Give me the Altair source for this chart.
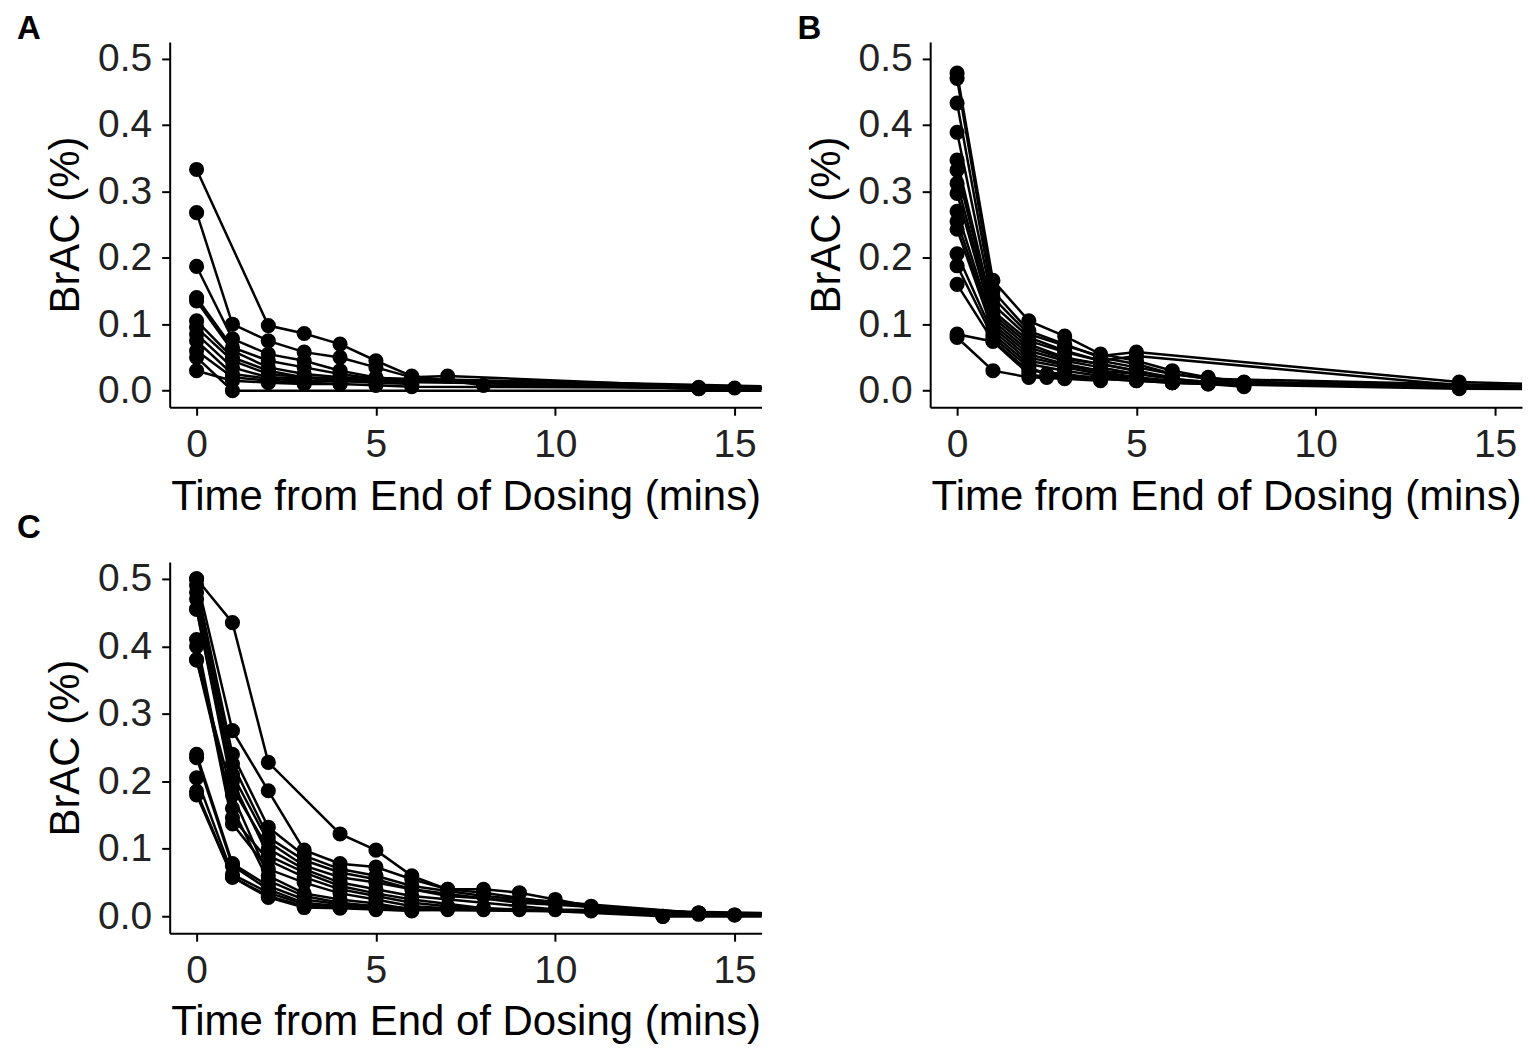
import altair as alt
import pandas as pd

# ---------------- data ----------------
A_times = [
    [0, 2, 3, 4, 5, 6, 8, 14, 20],
    [0, 1, 2, 3, 4, 5, 6, 7, 15, 20],
    [0, 1, 2, 3, 4, 5, 6, 14, 20],
    [0, 1, 2, 3, 4, 5, 14, 20],
    [0, 1, 2, 3, 4, 20],
    [0, 1, 2, 3, 14, 20],
    [0, 1, 2, 3, 4, 5, 6],
    [0, 1, 2, 14, 20],
    [0, 1, 2, 3, 20],
    [0, 1, 2, 3, 4],
    [0, 1, 20],
    [0, 1, 2, 3, 4, 5, 6, 20],
]
A_vals = [
    [0.333, 0.098, 0.086, 0.07, 0.045, 0.022, 0.008, 0.004, 0.003],
    [0.268, 0.1, 0.075, 0.058, 0.05, 0.035, 0.02, 0.022, 0.004, 0.002],
    [0.187, 0.078, 0.055, 0.045, 0.03, 0.02, 0.015, 0.005, 0.004],
    [0.14, 0.065, 0.045, 0.035, 0.025, 0.018, 0.004, 0.002],
    [0.135, 0.06, 0.035, 0.025, 0.02, 0.002],
    [0.105, 0.05, 0.03, 0.02, 0.003, 0.002],
    [0.095, 0.045, 0.025, 0.02, 0.015, 0.012, 0.01],
    [0.085, 0.035, 0.02, 0.003, 0.003],
    [0.075, 0.025, 0.018, 0.015, 0.002],
    [0.06, 0.02, 0.015, 0.012, 0.01],
    [0.05, 0.0, 0.0],
    [0.03, 0.015, 0.012, 0.01, 0.01, 0.008, 0.006, 0.003],
]

B_times = [
    [0, 1, 2, 3, 4, 5, 6, 7, 8, 20],
    [0, 1, 2, 3, 4, 5, 6, 8, 14, 20],
    [0, 1, 2, 3, 4, 5, 14, 20],
    [0, 1, 2, 3, 4, 5, 14, 20],
    [0, 1, 2, 3, 4, 5, 6, 7, 20],
    [0, 1, 2, 3, 4, 5, 6],
    [0, 1, 2, 3, 4, 5, 6, 8],
    [0, 1, 2, 3, 4, 5, 6, 7, 20],
    [0, 1, 2, 3, 4, 5],
    [0, 1, 2, 3, 4, 5, 6, 20],
    [0, 1, 2, 3, 4, 5, 6],
    [0, 1, 2, 3, 4, 5, 6, 7, 8],
    [0, 1, 2, 2.5, 3, 4, 5],
    [0, 1, 2, 3, 4, 6, 20],
    [0, 1, 2, 2.5, 3, 4, 5, 6, 7, 14, 20],
    [0, 1, 2, 3, 4],
]
B_vals = [
    [0.478, 0.166, 0.105, 0.082, 0.055, 0.045, 0.03, 0.02, 0.013, 0.003],
    [0.47, 0.15, 0.09, 0.07, 0.05, 0.04, 0.025, 0.012, 0.005, 0.002],
    [0.433, 0.14, 0.085, 0.068, 0.052, 0.058, 0.013, 0.004],
    [0.389, 0.13, 0.08, 0.06, 0.045, 0.052, 0.008, 0.002],
    [0.347, 0.12, 0.075, 0.058, 0.045, 0.035, 0.025, 0.018, 0.002],
    [0.332, 0.115, 0.07, 0.05, 0.04, 0.03, 0.02],
    [0.312, 0.11, 0.065, 0.048, 0.04, 0.03, 0.018, 0.008],
    [0.297, 0.105, 0.06, 0.045, 0.035, 0.025, 0.018, 0.012, 0.002],
    [0.27, 0.1, 0.055, 0.04, 0.03, 0.025],
    [0.255, 0.095, 0.05, 0.038, 0.028, 0.02, 0.015, 0.001],
    [0.243, 0.09, 0.045, 0.035, 0.025, 0.018, 0.012],
    [0.206, 0.085, 0.04, 0.03, 0.022, 0.018, 0.012, 0.01, 0.006],
    [0.188, 0.08, 0.035, 0.025, 0.022, 0.02, 0.015],
    [0.16, 0.075, 0.03, 0.025, 0.018, 0.012, 0.002],
    [0.085, 0.074, 0.025, 0.02, 0.02, 0.018, 0.015, 0.012, 0.01, 0.003, 0.001],
    [0.08, 0.03, 0.02, 0.018, 0.015],
]

C_times = [
    [0, 1, 2, 4, 5, 6, 7, 8, 9, 10, 11, 14, 20],
    [0, 1, 2, 3, 4, 5, 6, 7, 8, 10, 13, 20],
    [0, 1, 2, 3, 4, 5, 6, 8, 14, 20],
    [0, 1, 2, 3, 4, 5, 6, 9, 15, 20],
    [0, 1, 2, 3, 4, 5, 7, 14, 20],
    [0, 1, 2, 3, 4, 5, 6, 10, 20],
    [0, 1, 2, 3, 4, 5, 6, 8],
    [0, 1, 2, 3, 4, 5, 6, 7, 13, 20],
    [0, 1, 2, 3, 4, 5, 6, 7, 14, 20],
    [0, 1, 2, 3, 4, 5, 6, 20],
    [0, 1, 2, 3, 4, 5, 6, 9, 14],
    [0, 1, 2, 3, 4, 5, 6, 7],
    [0, 1, 2, 3, 4, 5, 6],
    [0, 1, 2, 3, 4, 5, 8, 15, 20],
    [0, 1, 2, 3, 4, 5, 6, 11, 20],
    [0, 1, 2, 3, 4, 5, 6],
]
C_vals = [
    [0.50, 0.435, 0.228, 0.122, 0.098, 0.06, 0.04, 0.04, 0.035, 0.025, 0.015, 0.005, 0.003],
    [0.50, 0.275, 0.186, 0.098, 0.078, 0.073, 0.055, 0.04, 0.035, 0.02, 0.0, 0.0],
    [0.49, 0.24, 0.132, 0.09, 0.07, 0.06, 0.045, 0.03, 0.005, 0.003],
    [0.48, 0.226, 0.117, 0.083, 0.065, 0.055, 0.04, 0.02, 0.002, 0.002],
    [0.47, 0.21, 0.11, 0.075, 0.058, 0.05, 0.03, 0.005, 0.003],
    [0.455, 0.19, 0.1, 0.07, 0.05, 0.04, 0.03, 0.01, 0.001],
    [0.455, 0.2, 0.09, 0.065, 0.045, 0.034, 0.025, 0.012],
    [0.41, 0.146, 0.083, 0.058, 0.04, 0.03, 0.02, 0.015, 0.0, 0.0],
    [0.40, 0.137, 0.07, 0.05, 0.034, 0.025, 0.015, 0.012, 0.004, 0.003],
    [0.38, 0.18, 0.06, 0.034, 0.025, 0.019, 0.01, 0.001],
    [0.38, 0.16, 0.053, 0.03, 0.02, 0.015, 0.009, 0.01, 0.003],
    [0.24, 0.078, 0.045, 0.025, 0.018, 0.015, 0.012, 0.01],
    [0.235, 0.075, 0.04, 0.02, 0.015, 0.013, 0.01],
    [0.205, 0.062, 0.035, 0.018, 0.013, 0.012, 0.01, 0.002, 0.002],
    [0.185, 0.058, 0.03, 0.015, 0.013, 0.012, 0.01, 0.008, 0.001],
    [0.18, 0.058, 0.028, 0.013, 0.012, 0.01, 0.008],
]

X_TICKS = [0, 5, 10, 15]
Y_TICKS = [0.0, 0.1, 0.2, 0.3, 0.4, 0.5]
X_TITLE = "Time from End of Dosing (mins)"
Y_TITLE = "BrAC (%)"

FONT = "Liberation Sans"


def make_df(times, vals):
    rows = []
    for i, (ts, vs) in enumerate(zip(times, vals)):
        for t, v in zip(ts, vs):
            rows.append({"subject": i, "time": t, "brac": v})
    return pd.DataFrame(rows)


def panel(times, vals, label, dx, offset, height):
    df = make_df(times, vals)
    base = alt.Chart(df).encode(
        x=alt.X("time:Q",
                scale=alt.Scale(domain=[-0.75, 15.75], nice=False, zero=False),
                axis=alt.Axis(values=X_TICKS, format="d", title=X_TITLE)),
        y=alt.Y("brac:Q",
                scale=alt.Scale(domain=[-0.025, 0.525], nice=False, zero=False),
                axis=alt.Axis(values=Y_TICKS, format=".1f", title=Y_TITLE)),
        detail="subject:N",
    )
    lines = base.mark_line(color="black", strokeWidth=2.5, clip=True)
    pts = base.mark_circle(color="black", size=230, opacity=1, clip=True)
    return alt.layer(lines, pts).properties(
        width=593, height=height,
        title=alt.TitleParams(label, anchor="start", frame="group", dx=dx,
                              fontSize=33, fontWeight="bold", font=FONT,
                              color="black", offset=offset),
    )


pA = panel(A_times, A_vals, "A", -153, -6, 366)
pB = panel(B_times, B_vals, "B", -133, -6, 366)
pC = panel(C_times, C_vals, "C", -153, 15, 372)

chart = alt.vconcat(
    alt.hconcat(pA, pB, spacing=36),
    pC,
    spacing=-6,
).configure_view(stroke=None).configure_axis(
    domainColor="black", domainWidth=2,
    tickColor="black", tickWidth=2, tickSize=8,
    labelFont=FONT, labelFontSize=39, labelColor="#222222",
    titleFont=FONT, titleFontSize=42, titleFontWeight="normal", titleColor="black",
    grid=False,
).configure_axisY(labelPadding=10, titlePadding=10
).configure_axisX(labelPadding=10, titlePadding=12
).properties(background="white", padding={"left": 9, "top": 3, "right": 5, "bottom": 5})

chart.save("out.html", embed_options={"renderer": "svg", "actions": False})
